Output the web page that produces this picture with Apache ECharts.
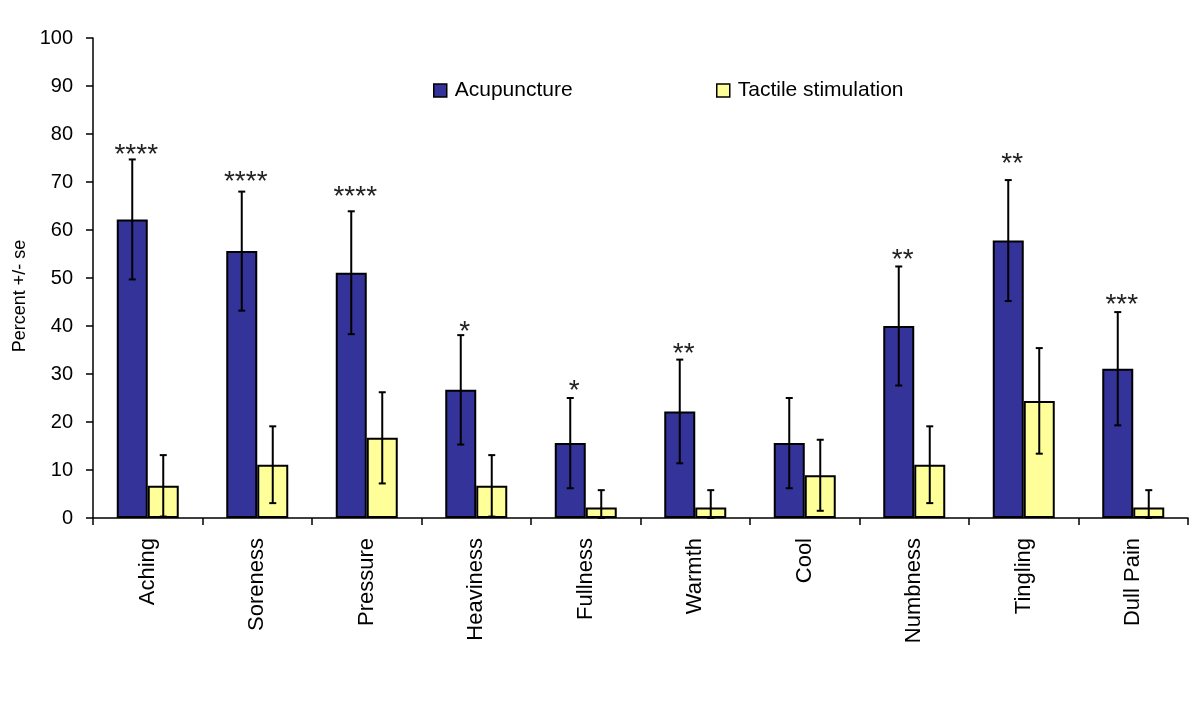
<!DOCTYPE html>
<html>
<head>
<meta charset="utf-8">
<script src="https://cdn.jsdelivr.net/npm/echarts@6/dist/echarts.min.js"></script>
<style>html,body{margin:0;padding:0;background:#fff;}#c{width:1200px;height:712px;}</style>
</head>
<body>
<div id="c"></div>
<script>
const categories = ['Aching','Soreness','Pressure','Heaviness','Fullness','Warmth','Cool','Numbness','Tingling','Dull Pain'];
const acupuncture = [62.2, 55.6, 51.1, 26.7, 15.6, 22.2, 15.6, 40.0, 57.8, 31.1];
const acupunctureSE = [12.5, 12.4, 12.8, 11.4, 9.4, 10.8, 9.4, 12.4, 12.6, 11.8];
const tactile = [6.7, 11.1, 16.7, 6.7, 2.2, 2.2, 8.9, 11.1, 24.4, 2.2];
const tactileSE = [6.4, 8.0, 9.5, 6.4, 3.6, 3.6, 7.4, 8.0, 11.0, 3.6];
const stars = ['****','****','****','*','*','**','','**','**','***'];
const starLevel = [77.0, 71.5, 68.2, 40.2, 27.9, 35.5, 0, 55.1, 75.1, 45.8];
const yTicks = [0,10,20,30,40,50,60,70,80,90,100];

const FONT = 'Liberation Sans, Arial, sans-serif';
const BAR_W = 31;

function errData(vals, se) {
  return vals.map((v, i) => [i, v, se[i]]);
}
function errRender(offset) {
  return function (params, api) {
    const i = api.value(0), v = api.value(1), s = api.value(2);
    const top = api.coord([i, v + s]);
    const bot = api.coord([i, Math.max(0, v - s)]);
    const x = top[0] + offset;
    const cap = 3.5;
    const style = { stroke: '#000', lineWidth: 2 };
    return {
      type: 'group',
      children: [
        { type: 'line', shape: { x1: x, y1: top[1], x2: x, y2: bot[1] }, style },
        { type: 'line', shape: { x1: x - cap, y1: top[1], x2: x + cap, y2: top[1] }, style },
        { type: 'line', shape: { x1: x - cap, y1: bot[1], x2: x + cap, y2: bot[1] }, style }
      ]
    };
  };
}

const chart = echarts.init(document.getElementById('c'));
chart.setOption({
  backgroundColor: '#fff',
  animation: false,
  grid: { left: 93, right: 12, top: 38, bottom: 194, containLabel: false },
  legend: [
    { data: ['Acupuncture'], left: 428, top: 75, itemWidth: 13, itemHeight: 13, itemGap: 0,
      icon: 'rect', itemStyle: { borderColor: '#000', borderWidth: 1.5 },
      textStyle: { fontFamily: FONT, fontSize: 21, color: '#000', padding: [0, 0, 0, 3] } },
    { data: ['Tactile stimulation'], left: 711, top: 75, itemWidth: 13, itemHeight: 13, itemGap: 0,
      icon: 'rect', itemStyle: { borderColor: '#000', borderWidth: 1.5 },
      textStyle: { fontFamily: FONT, fontSize: 21, color: '#000', padding: [0, 0, 0, 3] } }
  ],
  xAxis: {
    type: 'category',
    data: categories,
    boundaryGap: true,
    axisLine: { lineStyle: { color: '#000', width: 1.5 } },
    axisTick: { show: true, length: 7, inside: false, alignWithLabel: false, lineStyle: { color: '#000', width: 1.5 } },
    axisLabel: { rotate: 90, interval: 0, margin: 20, fontFamily: FONT, fontSize: 22, color: '#000' },
    splitLine: { show: false }
  },
  yAxis: {
    type: 'value',
    min: 0, max: 100, interval: 10,
    name: 'Percent +/- se',
    nameLocation: 'middle',
    nameRotate: 90,
    nameGap: 58,
    nameTextStyle: { fontFamily: FONT, fontSize: 18, color: '#000', padding: [0, 36, 0, 0] },
    axisLine: { show: true, lineStyle: { color: '#000', width: 1.5 } },
    axisTick: { show: true, length: 7, inside: false, lineStyle: { color: '#000', width: 1.5 } },
    axisLabel: { margin: 20, fontFamily: FONT, fontSize: 20, color: '#000',
      formatter: v => (yTicks.indexOf(v) >= 0 ? String(v) : '') },
    splitLine: { show: false }
  },
  series: [
    { name: 'Acupuncture', type: 'bar', data: acupuncture, barWidth: BAR_W, barGap: '0%',
      itemStyle: { color: '#333399', borderColor: '#000', borderWidth: 2 }, z: 2 },
    { name: 'Tactile stimulation', type: 'bar', data: tactile, barWidth: BAR_W, barGap: '0%',
      itemStyle: { color: '#FFFF99', borderColor: '#000', borderWidth: 2 }, z: 2 },
    { type: 'custom', data: errData(acupuncture, acupunctureSE), renderItem: errRender(-BAR_W / 2),
      encode: { x: 0, y: 1 }, z: 5, silent: true },
    { type: 'custom', data: errData(tactile, tactileSE), renderItem: errRender(BAR_W / 2),
      encode: { x: 0, y: 1 }, z: 5, silent: true },
    { type: 'custom', data: starLevel.map((v, i) => [i, v]), encode: { x: 0, y: 1 }, z: 6, silent: true,
      renderItem: function (params, api) {
        const i = api.value(0), v = api.value(1);
        const p = api.coord([i, v]);
        return { type: 'text', style: { text: stars[i], x: p[0] - BAR_W / 2 + 4, y: p[1] + 7,
          align: 'center', verticalAlign: 'middle', fontFamily: FONT, fontSize: 28, fill: '#222' } };
      } }
  ]
});
</script>
</body>
</html>
